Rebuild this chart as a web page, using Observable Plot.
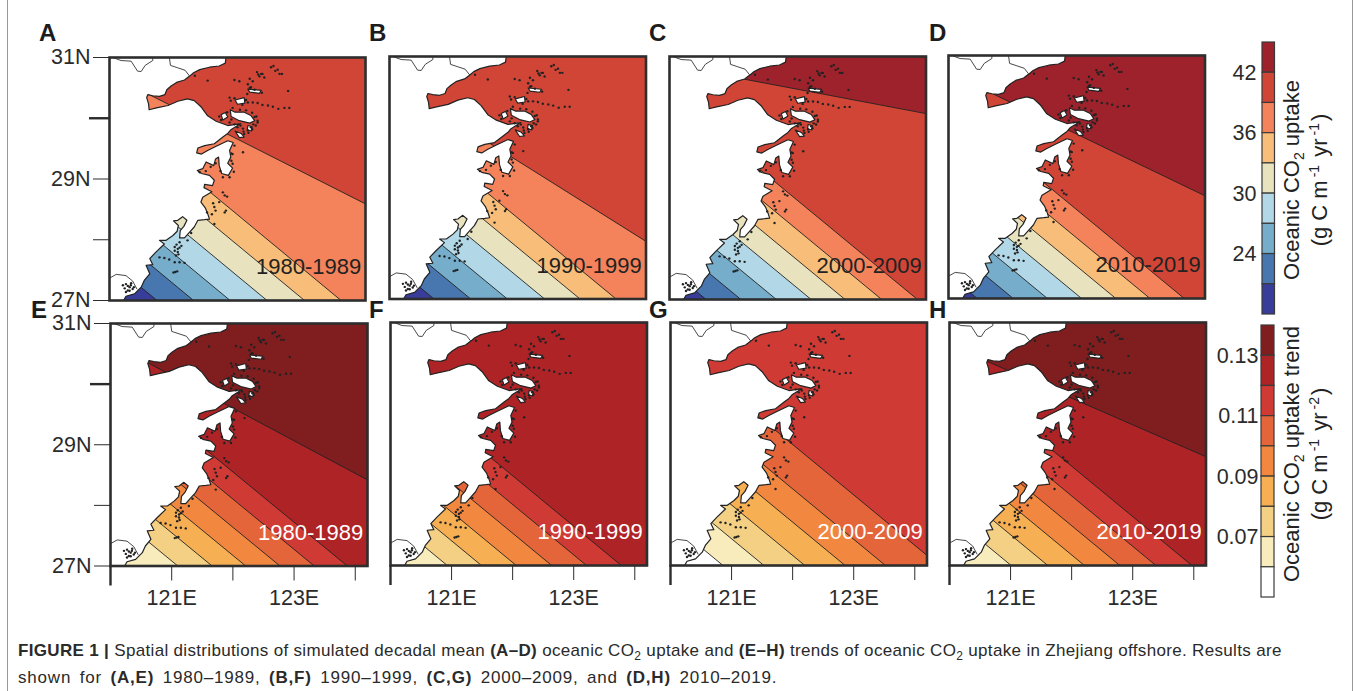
<!DOCTYPE html>
<html><head><meta charset="utf-8">
<script src="https://cdn.jsdelivr.net/npm/d3@7"></script>
<script src="https://cdn.jsdelivr.net/npm/@observablehq/plot@0.6"></script>
<style>
html,body{margin:0;padding:0;background:#fff;width:1354px;height:691px;overflow:hidden;font-family:"Liberation Sans",Arial,sans-serif;color:#222}
#page{position:relative;width:1354px;height:691px}
.p{position:absolute}
.p svg{background:transparent;overflow:visible;display:block}
.letter{position:absolute;font-weight:bold;font-size:24px;line-height:24px;color:#1c1c1c}
.rot{position:absolute;white-space:nowrap;transform:translate(-50%,-50%) rotate(-90deg);font-size:22px;line-height:24px;color:#222}
.rot sub,.rot sup{font-size:14px;line-height:0}
.rot sup{margin:0 2px 0 3px}
#cap{position:absolute;left:18px;top:637px;font-size:17px;line-height:27px;color:#2a2a2a;white-space:nowrap}
#cap sub{font-size:12px;line-height:0}
#l1{letter-spacing:0.33px}
#l2{letter-spacing:0.8px;word-spacing:3px}
#edgeL{position:absolute;left:7px;top:0;width:1px;height:691px;background:#999}
#edgeR{position:absolute;left:1352px;top:0;width:1px;height:691px;background:#999}
</style></head>
<body><div id="page">
<div id="edgeL"></div><div id="edgeR"></div>
<div id="cap"><span id="l1"><b>FIGURE 1 |</b> Spatial distributions of simulated decadal mean <b>(A–D)</b> oceanic CO<sub>2</sub> uptake and <b>(E–H)</b> trends of oceanic CO<sub>2</sub> uptake in Zhejiang offshore. Results are</span><br><span id="l2">shown for <b>(A,E)</b> 1980–1989, <b>(B,F)</b> 1990–1999, <b>(C,G)</b> 2000–2009, and <b>(D,H)</b> 2010–2019.</span></div>
</div>
<script>
// ---------- data ----------
const coast = [[121.913,31.02],[121.90,30.907],[121.80,30.86],[121.64,30.84],[121.48,30.80],[121.38,30.75],[121.31,30.69],[121.23,30.63],[121.10,30.59],[121.01,30.53],[120.94,30.47],[120.91,30.39],[120.82,30.36],[120.71,30.37],[120.63,30.39],[120.61,30.34],[120.64,30.24],[120.65,30.14],[120.77,30.17],[120.96,30.21],[121.12,30.28],[121.28,30.32],[121.39,30.29],[121.50,30.19],[121.61,30.04],[121.75,29.95],[121.94,29.88],[122.15,29.91],[121.99,29.81],[121.94,29.75],[121.86,29.69],[121.72,29.58],[121.56,29.55],[121.45,29.51],[121.43,29.43],[121.51,29.41],[121.61,29.47],[121.75,29.54],[121.94,29.63],[122.03,29.60],[121.97,29.47],[121.99,29.36],[121.94,29.26],[122.02,29.18],[121.95,29.06],[121.84,29.09],[121.80,29.22],[121.79,29.36],[121.74,29.33],[121.71,29.22],[121.585,29.28],[121.53,29.17],[121.44,29.14],[121.51,29.09],[121.64,29.06],[121.72,28.98],[121.69,28.89],[121.56,28.91],[121.55,28.855],[121.68,28.79],[121.53,28.70],[121.50,28.62],[121.57,28.525],[121.61,28.43],[121.64,28.34],[121.56,28.33],[121.45,28.32],[121.39,28.21],[121.30,28.11],[121.23,28.03],[121.15,28.03],[121.16,28.15],[121.22,28.22],[121.27,28.32],[121.20,28.38],[121.12,28.32],[121.05,28.31],[121.13,28.235],[121.11,28.14],[121.04,28.07],[120.93,27.99],[120.82,27.99],[120.90,27.93],[120.765,27.80],[120.66,27.69],[120.71,27.59],[120.60,27.58],[120.66,27.44],[120.57,27.33],[120.52,27.22],[120.41,27.11],[120.27,27.07],[120.22,26.98],[119.9,26.98],[119.9,31.02]];
const borders = [
  [[119.98,27.357],[120.11,27.43],[120.27,27.41],[120.38,27.32],[120.45,27.19]],
  [[120.08,30.99],[120.19,30.95],[120.355,30.94],[120.46,30.775],[120.52,30.77],[120.585,30.87],[120.71,30.95],[120.71,31.02]],
  [[120.98,31.02],[121.0,30.87],[121.12,30.83],[121.24,30.79],[121.31,30.70]]
];
const islands = [
  [[121.98,30.14],[122.06,30.10],[122.21,30.10],[122.32,30.045],[122.38,29.96],[122.30,29.92],[122.13,29.96],[121.995,30.03]],
  [[121.83,30.06],[121.90,30.095],[121.94,30.02],[121.86,29.97]],
  [[122.06,30.30],[122.21,30.34],[122.22,30.25],[122.10,30.23]],
  [[122.06,29.79],[122.16,29.75],[122.21,29.69],[122.13,29.68]],
  [[122.27,29.88],[122.34,29.86],[122.33,29.79],[122.26,29.81]],
  [[122.27,30.48],[122.49,30.46],[122.46,30.41],[122.30,30.43]]
];
const islets = [[122.65,30.84],[122.69,30.86],[122.76,30.80],[122.79,30.73],[122.83,30.73],[122.42,30.76],[122.49,30.73],[122.46,30.69],[122.54,30.67],[122.51,30.73],[122.05,30.63],[122.13,30.61],[122.30,30.65],[122.35,30.61],[122.27,30.56],[122.32,30.51],[121.61,30.62],[121.40,30.70],[122.93,30.45],[121.97,30.34],[121.99,30.29],[122.27,30.26],[122.35,30.26],[122.43,30.25],[122.51,30.22],[122.60,30.21],[122.68,30.19],[122.77,30.155],[122.87,30.17],[122.95,30.17],[122.38,30.02],[122.43,29.96],[122.40,29.88],[122.32,29.85],[122.27,29.80],[122.21,29.74],[122.10,29.85],[122.19,29.83],[122.19,29.44],[122.02,29.41],[121.86,28.78],[121.89,28.73],[121.93,28.71],[121.80,28.62],[121.91,28.48],[121.89,28.45],[121.72,28.26],[121.60,28.45],[121.34,28.11],[121.28,27.99],[121.15,27.96],[121.07,27.88],[121.15,27.87],[121.12,27.80],[121.07,27.82],[120.82,27.71],[120.90,27.70],[120.98,27.675],[121.07,27.63],[121.15,27.63],[121.23,27.62],[121.08,27.47],[120.22,27.25],[120.27,27.27],[120.33,27.22],[120.38,27.19],[120.30,27.165],[120.355,27.285],
[122.02,30.17],[122.14,30.14],[122.24,30.13],[122.34,30.09],[122.41,30.03],[122.43,29.93],[122.36,29.9],[122.34,29.82],[122.28,29.76],[122.2,29.78],[122.15,29.88],[122.05,29.9],[121.97,29.93],[122.0,29.98],[121.8,30.03],[121.83,29.97],[121.93,30.1],[122.05,30.33],[122.24,30.3],[122.18,30.22],[122.3,30.5],[122.38,30.47],[122.5,30.42],[122.26,30.4],
[122.05,29.55],[122.0,29.42],[122.0,29.3],[122.02,29.25],[122.04,29.12],[121.97,29.03],[121.86,29.03],[121.82,29.13],[121.74,29.26],[121.66,29.2],[121.58,29.13],[121.48,29.11],
[121.74,28.48],[121.72,28.54],[121.7,28.6],[121.68,28.42],
[121.1,27.92],[121.12,27.85],[121.18,27.9],[121.13,27.76],[121.09,27.74],[121.11,27.48],[121.05,27.46],[120.3,27.24],[120.25,27.2],[120.35,27.25],[120.4,27.22],[120.33,27.16],[120.27,27.14],[122.72,30.78],[122.44,30.72]];

const uptakeColors = ["#9D222B","#D14536","#F4825A","#F7BD79","#E8E3BE","#B2D8E7","#76ADCB","#4876AE","#393D9A"];
const trendColors  = ["#7F1D1F","#AE2326","#D03A35","#E5653A","#F2883F","#F6AF53","#F3D083","#F8EBBC","#FFFFFF"];

// first contour across the upper sea (lon, lat, lon, lat), when that contour is not one of the parallel ones
const upperA = [120,30.72,124.2,28.59], upperB = [121.4,29.72,124.2,27.95], upperC = [120,30.86,124.2,30.06], upperD = [120,30.72,124.2,28.69];
const upperE = [120,30.68,124.2,28.42], upperH = [120,30.63,124.2,28.79];
// longitudes at which the parallel contours meet 27N
const southA = [123.80,123.20,122.585,121.98,121.38,120.78];
const southB = [123.71,123.12,122.54,121.93,121.33,120.73];
const southC = [124.06,123.475,122.875,122.32,121.75,121.17,120.60];
const southD = [123.86,123.30,122.74,122.18,121.62,121.06,120.47];
const southE = [123.87,123.33,122.77,122.21,121.66,121.10];
const southF = [123.78,123.21,122.64,122.06,121.49,120.93];
const southG = [124.40,123.52,122.86,122.20,121.53,120.86];
const southH = [123.97,123.38,122.79,122.21,121.61,121.01];
const contourSlope = 0.83;

const decades = ["1980-1989","1990-1999","2000-2009","2010-2019"];
const latTicks = [31,29,28,27], lonTicks = [121,122,123,124];
const uptakeEdges = [45,42,39,36,33,30,27,24,21,18], uptakeTicks = [42,36,30,24];
const trendEdges = [0.14,0.13,0.12,0.11,0.10,0.09,0.08,0.07,0.06,0.05], trendTicks = [0.13,0.11,0.09,0.07];

// frame of each panel in the page: left, right, top, bottom
const panels = [
 {id:"A",f:[108.5,364.5,57,300],upper:upperA,south:southA,pal:uptakeColors,start:1,label:decades[0],ink:"#222",yaxis:true},
 {id:"B",f:[388.5,645,56,298.5],upper:upperB,south:southB,pal:uptakeColors,start:1,label:decades[1],ink:"#222"},
 {id:"C",f:[668.5,925,56,299],upper:upperC,south:southC,pal:uptakeColors,start:0,label:decades[2],ink:"#222"},
 {id:"D",f:[948,1204.5,55,298],upper:upperD,south:southD,pal:uptakeColors,start:0,label:decades[3],ink:"#222"},
 {id:"E",f:[110,367,322.5,565],upper:upperE,south:southE,pal:trendColors,start:0,label:decades[0],ink:"#fff",yaxis:true,xaxis:true},
 {id:"F",f:[389.5,646,322,565],upper:null,south:southF,pal:trendColors,start:1,label:decades[1],ink:"#fff",xaxis:true},
 {id:"G",f:[669.5,926,322,565],upper:null,south:southG,pal:trendColors,start:2,label:decades[2],ink:"#fff",xaxis:true},
 {id:"H",f:[948.5,1205,321.5,564.5],upper:upperH,south:southH,pal:trendColors,start:0,label:decades[3],ink:"#fff",xaxis:true}
];
const letterPos = {A:[39,21],B:[369,21],C:[649,21],D:[929,21],E:[31,298],F:[369,298],G:[649,298],H:[929,298]};

// ---------- drawing ----------
const FONT = '"Liberation Sans",Arial,sans-serif';
const INK = "#2b2b2b";
const page = document.getElementById("page");
function place(node,left,top){const d=document.createElement("div");d.className="p";d.style.left=left+"px";d.style.top=top+"px";d.appendChild(node);page.appendChild(d);}

function poly(points,opts){return Plot.line(points,{x:d=>d[0],y:d=>d[1],clip:true,...opts});}

function drawPanel(p){
  const [L,R,T,B]=p.f, ml=70, mr=6, mt=6, mb=44;
  const lines=[];
  if(p.upper) lines.push([[p.upper[0],p.upper[1]],[p.upper[2],p.upper[3]]]);
  for(const b of p.south) lines.push([[b-3/contourSlope,30],[b,27]]);
  const marks=[Plot.rect([0],{x1:120,x2:124.2,y1:27,y2:31,fill:p.pal[p.start]})];
  lines.forEach((ln,i)=>{
    const c=p.pal[p.start+i+1];
    const [a,b]=ln;
    marks.push(poly([a,b,[Math.max(b[0],a[0]),26],[Math.min(a[0],b[0])-0.5,26],[Math.min(a[0],b[0])-0.5,a[1]]],{fill:c,stroke:"none"}));
    marks.push(poly(ln,{stroke:"#222",strokeWidth:0.9}));
  });
  marks.push(poly(coast,{fill:"#fff",stroke:"#222",strokeWidth:1.2,curve:"linear-closed"}));
  borders.forEach(b=>marks.push(poly(b,{stroke:"#333",strokeWidth:0.9})));
  islands.forEach(b=>marks.push(poly(b,{fill:"#fff",stroke:"#222",strokeWidth:1.2,curve:"linear-closed"})));
  marks.push(Plot.dot(islets,{x:d=>d[0],y:d=>d[1],r:1.2,fill:"#222",stroke:"none",clip:true}));
  marks.push(Plot.text([p.label],{x:124.13,y:27.43,text:d=>d,textAnchor:"end",lineAnchor:"bottom",fontSize:22,fill:p.ink,fontFamily:FONT}));
  marks.push(Plot.frame({stroke:"#2e2e2e",strokeWidth:2.6}));
  if(p.yaxis){
    marks.push(Plot.axisY(latTicks,{anchor:"left",tickSize:16,tickPadding:3,tickFormat:d=>d%2?d+"N":"",fontSize:21.5,stroke:INK,fill:INK,fontFamily:FONT}));
    marks.push(Plot.axisY([30],{anchor:"left",tickSize:20,tickFormat:()=>"",strokeWidth:2.4,stroke:INK}));
  }
  if(p.xaxis){
    marks.push(Plot.axisX(lonTicks,{anchor:"bottom",tickSize:15,tickPadding:9,tickFormat:d=>d%2?d+"E":"",fontSize:21.5,stroke:INK,fill:INK,fontFamily:FONT}));
    marks.push(Plot.axisX([120],{anchor:"bottom",tickSize:20,tickFormat:()=>"",strokeWidth:2.4,stroke:INK}));
  }
  const svg=Plot.plot({width:R-L+ml+mr,height:B-T+mt+mb,marginLeft:ml,marginRight:mr,marginTop:mt,marginBottom:mb,
    x:{domain:[120,124.2],axis:null},y:{domain:[27,31],axis:null},
    style:{background:"transparent",overflow:"visible",fontFamily:FONT},marks});
  place(svg,L-ml,T-mt);
  const l=document.createElement("div");l.className="letter";l.textContent=p.id;
  l.style.left=letterPos[p.id][0]+"px";l.style.top=letterPos[p.id][1]+"px";page.appendChild(l);
}
panels.forEach(drawPanel);

function drawBar(edges,colors,ticks,fmt,left,top,bottom,right,padding){
  const ml=50,mt=4,mb=4,mr=4,w=right-left;
  const cells=colors.map((c,i)=>({c,y1:edges[i],y2:edges[i+1]}));
  const svg=Plot.plot({width:ml+w+mr,height:bottom-top+mt+mb,marginLeft:ml,marginRight:mr,marginTop:mt,marginBottom:mb,
    x:{domain:[0,1],axis:null},y:{domain:[edges[edges.length-1],edges[0]],axis:null},
    style:{background:"transparent",overflow:"visible",fontFamily:FONT},
    marks:[
      Plot.rect(cells,{x1:0,x2:1,y1:"y1",y2:"y2",fill:"c",stroke:"#3a3a3a",strokeWidth:1.2}),
      Plot.axisY(ticks,{anchor:"left",tickSize:0,tickPadding:padding,tickFormat:fmt,fontSize:21.5,fill:INK,fontFamily:FONT})
    ]});
  place(svg,left-ml,top-mt);
}
drawBar(uptakeEdges,uptakeColors,uptakeTicks,d=>String(d),1262,42,314,1274.5,6);
drawBar(trendEdges,trendColors,trendTicks,d=>d.toFixed(2),1261,325,597,1274,3);

function rot(html,x,y){const d=document.createElement("div");d.className="rot";d.innerHTML=html;d.style.left=x+"px";d.style.top=y+"px";page.appendChild(d);}
rot('Oceanic CO<sub>2</sub> uptake',1292,180);
rot('(g C m<sup>-1</sup> yr<sup>-1</sup>)',1320,180);
rot('Oceanic CO<sub>2</sub> uptake trend',1292,454);
rot('(g C m<sup>-1</sup> yr<sup>-2</sup>)',1320,454);
</script>
</body></html>
